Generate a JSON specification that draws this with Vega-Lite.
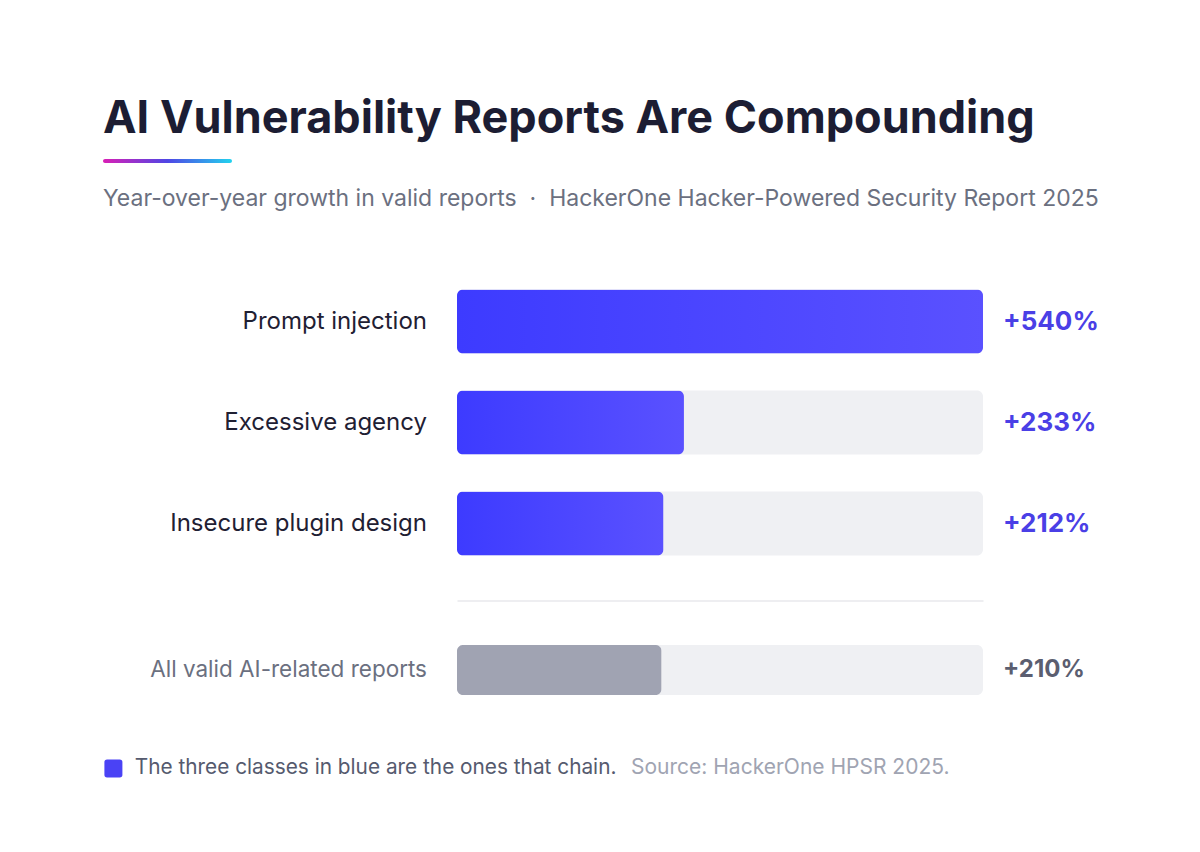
{
  "$schema": "https://vega.github.io/schema/vega-lite/v6.json",
  "background": "#ffffff",
  "padding": {"left": 103, "top": 97, "right": 101, "bottom": 70},
  "config": {
    "view": {"stroke": null},
    "font": "Inter"
  },
  "datasets": {
    "rows": [
      {"label": "Prompt injection", "value": 540, "pct": "+540%", "group": "chain"},
      {"label": "Excessive agency", "value": 233, "pct": "+233%", "group": "chain"},
      {"label": "Insecure plugin design", "value": 212, "pct": "+212%", "group": "chain"},
      {"label": "All valid AI-related reports", "value": 210, "pct": "+210%", "group": "all"}
    ],
    "accent": [{"v": 1}]
  },
  "bounds": "flush",
  "spacing": 108,
  "vconcat": [
    {
      "width": 129,
      "height": 4,
      "title": {
        "text": "AI Vulnerability Reports Are Compounding",
        "anchor": "start",
        "frame": "group",
        "fontSize": 45,
        "fontWeight": 700,
        "color": "#1c1d33",
        "font": "Inter",
        "baseline": "alphabetic",
        "offset": -19
      },
      "data": {"name": "accent"},
      "mark": {
        "type": "rect",
        "cornerRadius": 2,
        "color": {
          "gradient": "linear",
          "x1": 0, "y1": 0, "x2": 1, "y2": 0,
          "stops": [
            {"offset": 0, "color": "#d91fb5"},
            {"offset": 0.5, "color": "#4f46e5"},
            {"offset": 1, "color": "#22d3ee"}
          ]
        }
      },
      "encoding": {
        "x": {"field": "v", "type": "quantitative", "scale": {"domain": [0, 1], "nice": false}, "axis": null},
        "x2": {"datum": 0},
        "y": {"datum": 0, "type": "quantitative", "scale": {"domain": [0, 1], "nice": false}, "axis": null},
        "y2": {"datum": 1}
      }
    },
    {
      "bounds": "flush",
      "spacing": 26.5,
      "vconcat": [
        {
          "width": 996,
          "height": 303,
          "title": {
            "text": "Year-over-year growth in valid reports\u00a0\u00a0·\u00a0\u00a0HackerOne Hacker-Powered Security Report 2025",
            "anchor": "start",
            "frame": "group",
            "fontSize": 23,
            "fontWeight": 400,
            "color": "#6b7080",
            "font": "Inter",
            "baseline": "alphabetic",
            "offset": 42
          },
          "data": {"name": "rows"},
          "transform": [{"filter": "datum.group === 'chain'"}],
          "encoding": {
            "y": {
              "field": "label", "type": "nominal", "sort": null, "axis": null,
              "scale": {"paddingInner": 0.366, "paddingOuter": 0.183}
            }
          },
          "layer": [
            {
              "mark": {"type": "bar", "color": "#eff0f3", "cornerRadius": 6},
              "encoding": {
                "x": {"datum": 540, "type": "quantitative", "scale": {"domain": [0, 540], "range": [354, 880], "nice": false}, "axis": null}
              }
            },
            {
              "mark": {
                "type": "bar", "cornerRadius": 6,
                "color": {
                  "gradient": "linear",
                  "x1": 0, "y1": 0, "x2": 1, "y2": 0,
                  "stops": [
                    {"offset": 0, "color": "#3d3bff"},
                    {"offset": 1, "color": "#5a51ff"}
                  ]
                }
              },
              "encoding": {
                "x": {"field": "value", "type": "quantitative", "axis": null}
              }
            },
            {
              "mark": {"type": "text", "align": "right", "baseline": "middle", "dx": -30, "fontSize": 24, "font": "Inter", "color": "#1f2033"},
              "encoding": {
                "x": {"datum": 0, "type": "quantitative", "axis": null},
                "text": {"field": "label"}
              }
            },
            {
              "mark": {"type": "text", "align": "left", "baseline": "middle", "dx": 20, "fontSize": 26, "fontWeight": 700, "font": "Inter", "color": "#4a3fe6"},
              "encoding": {
                "x": {"datum": 540, "type": "quantitative", "axis": null},
                "text": {"field": "pct"}
              }
            }
          ]
        },
        {
          "width": 996,
          "height": 139,
          "data": {"name": "rows"},
          "transform": [{"filter": "datum.group === 'all'"}],
          "encoding": {
            "y": {
              "field": "label", "type": "nominal", "sort": null,
              "scale": {"paddingInner": 0, "paddingOuter": 0},
              "axis": {
                "title": null, "labels": false, "ticks": false, "domain": false,
                "grid": true, "bandPosition": 0, "gridColor": "#e8e9ed", "gridWidth": 1.5
              }
            }
          },
          "layer": [
            {
              "mark": {"type": "bar", "color": "#eff0f3", "cornerRadius": 6, "height": {"band": 0.36}},
              "encoding": {
                "x": {"datum": 540, "type": "quantitative", "scale": {"domain": [0, 540], "range": [354, 880], "nice": false}, "axis": null}
              }
            },
            {
              "mark": {"type": "bar", "color": "#a0a3b2", "cornerRadius": 6, "height": {"band": 0.36}},
              "encoding": {
                "x": {"field": "value", "type": "quantitative", "axis": null}
              }
            },
            {
              "mark": {"type": "text", "align": "right", "baseline": "middle", "dx": -30, "fontSize": 22.5, "font": "Inter", "color": "#6b7080"},
              "encoding": {
                "x": {"datum": 0, "type": "quantitative", "axis": null},
                "text": {"field": "label"}
              }
            },
            {
              "mark": {"type": "text", "align": "left", "baseline": "middle", "dx": 20, "fontSize": 24, "fontWeight": 700, "font": "Inter"},
              "encoding": {
                "x": {"datum": 540, "type": "quantitative", "axis": null},
                "text": {"field": "pct"},
                "color": {
                  "field": "group", "type": "nominal",
                  "scale": {"domain": ["chain", "all"], "range": ["#4a42f5", "#5b5e70"]},
                  "legend": {
                    "values": ["chain"],
                    "labelExpr": "'The three classes in blue are the ones that chain.'",
                    "title": "Source: HackerOne HPSR 2025.",
                    "titleOrient": "right",
                    "titleFont": "Inter",
                    "titleFontSize": 21,
                    "titleFontWeight": 400,
                    "titleColor": "#a0a4b2",
                    "titlePadding": 15,
                    "titleLimit": 2000,
                    "labelFont": "Inter",
                    "labelFontSize": 20.8,
                    "labelColor": "#555a6e",
                    "labelOffset": 11,
                    "labelLimit": 2000,
                    "symbolType": "M-0.7,-1L0.7,-1Q1,-1 1,-0.7L1,0.7Q1,1 0.7,1L-0.7,1Q-1,1 -1,0.7L-1,-0.7Q-1,-1 -0.7,-1Z",
                    "symbolSize": 324,
                    "symbolStrokeWidth": 0,
                    "symbolOpacity": 1,
                    "orient": "none",
                    "legendX": 0,
                    "legendY": 599
                  }
                }
              }
            }
          ]
        }
      ]
    }
  ]
}
